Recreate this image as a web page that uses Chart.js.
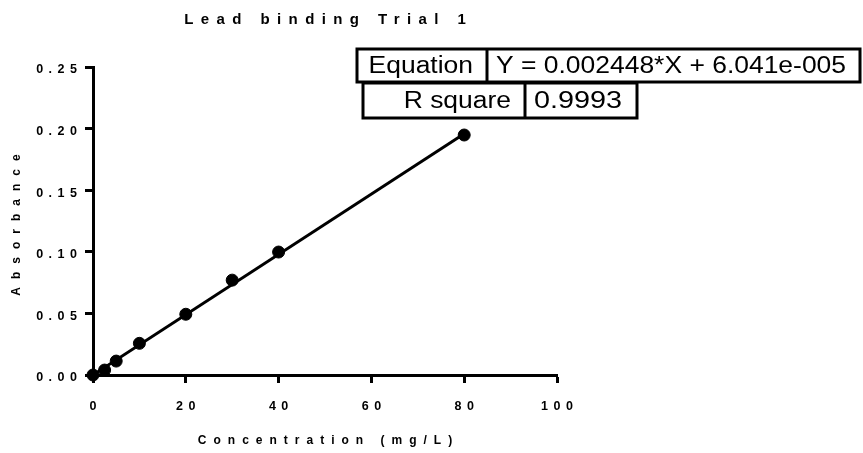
<!DOCTYPE html>
<html lang="en">

<head>
    <meta charset="UTF-8">
    <title>Lead binding Trial 1</title>
    <script src="https://cdn.jsdelivr.net/npm/chart.js"></script>
    <style>
        body {
            margin: 0;
            background-color: #ffffff;
        }

        .container {
            width: 863px;
            height: 453px;
        }
    </style>
</head>

<body>
    <div class="container">
        <canvas id="bindingChart" width="863" height="453"></canvas>
    </div>

    <script>
        // measured points
        const concentration = [0, 2.5, 5, 10, 20, 30, 40, 80];
        const absorbance = [0.000, 0.004, 0.0113, 0.0257, 0.0493, 0.077, 0.0998, 0.1948];

        // fitted line end points
        const fitX = [0, 80];
        const fitY = [0.00006, 0.19590];

        const xTickValues = [0, 20, 40, 60, 80, 100];
        const xTickLabels = ['0', '20', '40', '60', '80', '100'];
        const yTickValues = [0, 0.05, 0.10, 0.15, 0.20, 0.25];
        const yTickLabels = ['0.00', '0.05', '0.10', '0.15', '0.20', '0.25'];

        const chartTitle = 'Lead binding Trial 1';
        const xTitle = 'Concentration (mg/L)';
        const yTitle = 'Absorbance';

        const tableLabels = ['Equation', 'R square'];
        const tableValues = ['Y = 0.002448*X + 6.041e-005', '0.9993'];

        const FONT = '"Liberation Sans", Arial, sans-serif';

        // spaced-out text like the Prism export
        const textPlugin = {
            id: 'textPlugin',
            beforeDraw(chart) {
                chart.ctx.letterSpacing = '5.5px';
            },
            afterDraw(chart) {
                const ctx = chart.ctx;
                ctx.save();
                ctx.fillStyle = '#000';
                ctx.textAlign = 'center';
                ctx.textBaseline = 'middle';

                ctx.letterSpacing = '7.4px';
                ctx.font = 'bold 15px ' + FONT;
                ctx.fillText(chartTitle, 325 + 3.7, 20);

                ctx.letterSpacing = '7px';
                ctx.font = 'bold 12px ' + FONT;
                ctx.fillText(xTitle, 325 + 3.5, 441);

                ctx.save();
                ctx.translate(17, 225);
                ctx.rotate(-Math.PI / 2);
                ctx.letterSpacing = '8px';
                ctx.fillText(yTitle, 4, 0);
                ctx.restore();

                // equation table
                ctx.letterSpacing = '0px';
                ctx.lineWidth = 3;
                ctx.strokeStyle = '#000';
                ctx.font = '23px ' + FONT;
                const rows = [
                    { left: 357, div: 487, right: 860, top: 49, bottom: 82 },
                    { left: 363, div: 525, right: 637, top: 83, bottom: 118 }
                ];
                rows.forEach((r, i) => {
                    ctx.strokeRect(r.left, r.top, r.right - r.left, r.bottom - r.top);
                    ctx.beginPath();
                    ctx.moveTo(r.div, r.top);
                    ctx.lineTo(r.div, r.bottom);
                    ctx.stroke();
                    const cy = (r.top + r.bottom) / 2 + 1;

                    ctx.save();
                    ctx.translate(r.div - 14, cy);
                    ctx.scale(1.15, 1);
                    ctx.textAlign = 'right';
                    ctx.fillText(tableLabels[i], 0, 0);
                    ctx.restore();

                    ctx.save();
                    ctx.translate(r.div + 9, cy);
                    ctx.scale(i === 1 ? 1.25 : 1.15, 1);
                    ctx.textAlign = 'left';
                    ctx.fillText(tableValues[i], 0, 0);
                    ctx.restore();
                });
                ctx.restore();
            }
        };

        const ctx = document.getElementById('bindingChart').getContext('2d');
        const chart = new Chart(ctx, {
            type: 'scatter',
            data: {
                datasets: [{
                    type: 'line',
                    data: fitX.map((x, i) => ({ x: x, y: fitY[i] })),
                    borderColor: '#000',
                    borderWidth: 3,
                    pointRadius: 0,
                    fill: false
                }, {
                    data: concentration.map((x, i) => ({ x: x, y: absorbance[i] })),
                    backgroundColor: '#000',
                    borderColor: '#000',
                    pointRadius: 6,
                    pointHoverRadius: 6,
                    clip: false
                }]
            },
            options: {
                responsive: false,
                animation: false,
                layout: {
                    padding: { left: 0, top: 67, right: 306, bottom: 0 }
                },
                plugins: {
                    legend: { display: false },
                    tooltip: { enabled: false }
                },
                scales: {
                    x: {
                        type: 'linear',
                        min: 0,
                        max: 100,
                        afterBuildTicks: scale => {
                            scale.ticks = xTickValues.map(v => ({ value: v }));
                        },
                        afterFit: scale => { scale.height = 78; },
                        ticks: {
                            color: '#000',
                            font: { family: FONT, size: 12.5, weight: 'bold' },
                            padding: 16.5,
                            labelOffset: 2.75,
                            maxRotation: 0,
                            callback: (value, index) => xTickLabels[index]
                        },
                        grid: {
                            drawOnChartArea: false,
                            drawTicks: true,
                            tickLength: 8,
                            tickWidth: 3,
                            tickColor: '#000'
                        },
                        border: { display: true, width: 3, color: '#000' }
                    },
                    y: {
                        type: 'linear',
                        min: 0,
                        max: 0.25,
                        afterBuildTicks: scale => {
                            scale.ticks = yTickValues.map(v => ({ value: v }));
                        },
                        afterFit: scale => { scale.width = 93; },
                        ticks: {
                            color: '#000',
                            font: { family: FONT, size: 12.5, weight: 'bold' },
                            padding: 2.5,
                            labelOffset: 3,
                            callback: (value, index) => yTickLabels[index]
                        },
                        grid: {
                            drawOnChartArea: false,
                            drawTicks: true,
                            tickLength: 8,
                            tickWidth: 3,
                            tickColor: '#000'
                        },
                        border: { display: true, width: 3, color: '#000' }
                    }
                }
            },
            plugins: [textPlugin]
        });
    </script>
</body>

</html>
